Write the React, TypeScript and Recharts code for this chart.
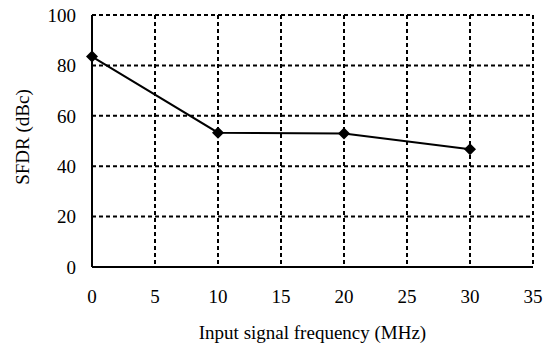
import { CartesianGrid, Line, LineChart, XAxis, YAxis } from 'recharts';

const frequencies = [0, 10, 20, 30];
const sfdrValues = [83.5, 53.3, 53, 46.7];
const xTicks = [0, 5, 10, 15, 20, 25, 30, 35];
const yTicks = [0, 20, 40, 60, 80, 100];

const data = frequencies.map((f, i) => ({ freq: f, sfdr: sfdrValues[i] }));

const font = '"Liberation Serif", "Times New Roman", serif';

function Diamond(props: { cx?: number; cy?: number }) {
  const { cx, cy } = props;
  if (cx == null || cy == null) return null;
  const r = 6;
  return (
    <polygon
      points={`${cx},${cy - r} ${cx + r},${cy} ${cx},${cy + r} ${cx - r},${cy}`}
      fill="#000"
    />
  );
}

export default function App() {
  return (
    <div style={{ position: 'absolute', left: 0, top: 0, width: 551, height: 351, background: '#fff', fontFamily: font }}>
      <LineChart width={551} height={351} data={data} margin={{ top: 15, right: 18, left: 0, bottom: 0 }}>
        <CartesianGrid stroke="#000" strokeWidth={2} strokeDasharray="4 3" horizontalValues={[20, 40, 60, 80, 100]} verticalValues={[5, 10, 15, 20, 25, 30, 35]} />
        <XAxis
          dataKey="freq"
          type="number"
          domain={[0, 35]}
          ticks={xTicks}
          height={84}
          tickLine={false}
          tickMargin={17}
          axisLine={{ stroke: '#000', strokeWidth: 2 }}
          tick={{ fontSize: 19, fill: '#000', fontFamily: font }}
          label={{ value: 'Input signal frequency (MHz)', position: 'insideBottom', offset: 12, fill: '#000', fontSize: 19, fontFamily: font }}
        />
        <YAxis
          type="number"
          domain={[0, 100]}
          ticks={yTicks}
          width={92}
          tickLine={false}
          tickMargin={10}
          axisLine={{ stroke: '#000', strokeWidth: 2 }}
          tick={{ fontSize: 19, fill: '#000', fontFamily: font }}
          label={{ value: 'SFDR (dBc)', angle: -90, position: 'insideLeft', offset: 22, dy: -4, fill: '#000', fontSize: 19, fontFamily: font, style: { textAnchor: 'middle' } }}
        />
        <Line
          type="linear"
          dataKey="sfdr"
          stroke="#000"
          strokeWidth={2}
          dot={<Diamond />}
          activeDot={false}
          isAnimationActive={false}
        />
      </LineChart>
    </div>
  );
}
